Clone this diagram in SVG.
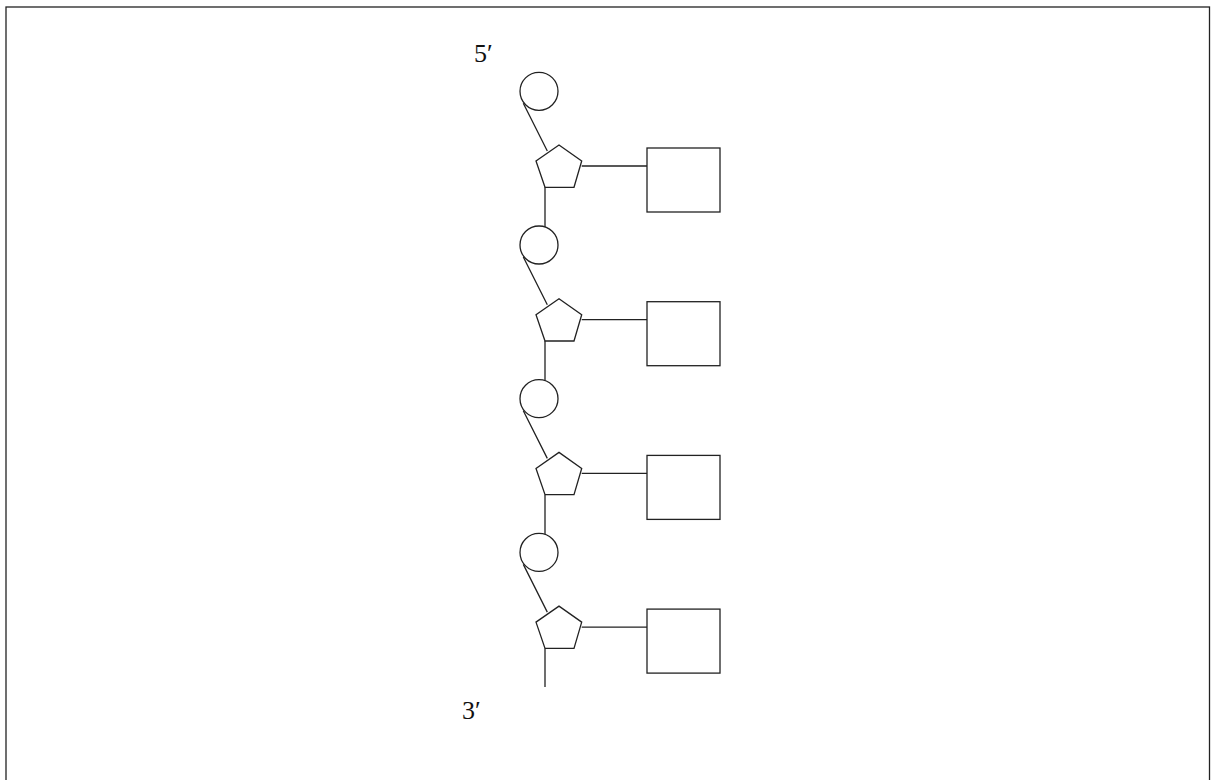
<svg xmlns="http://www.w3.org/2000/svg" width="1211" height="780" viewBox="0 0 1211 780">
<style>
.s{fill:#fff;stroke:#222;stroke-width:1.3}
.l{fill:none;stroke:#222;stroke-width:1.3}
.t{font-family:"Liberation Serif","DejaVu Serif",serif;font-size:26px;fill:#111}
</style>
<defs>
<g id="unit">
<circle class="s" cx="539" cy="91.3" r="19"/>
<polygon class="s" points="559,145 581.7,161 574,187.3 545,187.3 536,161"/>
<rect class="s" x="647" y="148" width="73" height="64"/>
</g>
</defs>
<rect x="6" y="7" width="1203.5" height="800" fill="#fff" stroke="#222" stroke-width="1.3"/>
<g id="connectors">
<path class="l" d="M523.3,103.3 L547.3,151 M581.7,166 H647 M545,187.3 V227"/>
<path class="l" d="M523.3,257 L547.3,304.7 M581.7,319.7 H647 M545,341 V380.7"/>
<path class="l" d="M523.3,410.7 L547.3,458.4 M581.7,473.4 H647 M545,494.7 V534.4"/>
<path class="l" d="M523.3,564.4 L547.3,612.1 M581.7,627.1 H647 M545,648.4 V687"/>
</g>
<g id="unit1"><use href="#unit"/></g>
<g id="unit2"><use href="#unit" transform="translate(0,153.7)"/></g>
<g id="unit3"><use href="#unit" transform="translate(0,307.4)"/></g>
<g id="unit4"><use href="#unit" transform="translate(0,461.1)"/></g>
<g id="label5"><text class="t" x="474" y="61.5">5′</text></g>
<g id="label3"><text class="t" x="462" y="719">3′</text></g>
</svg>
